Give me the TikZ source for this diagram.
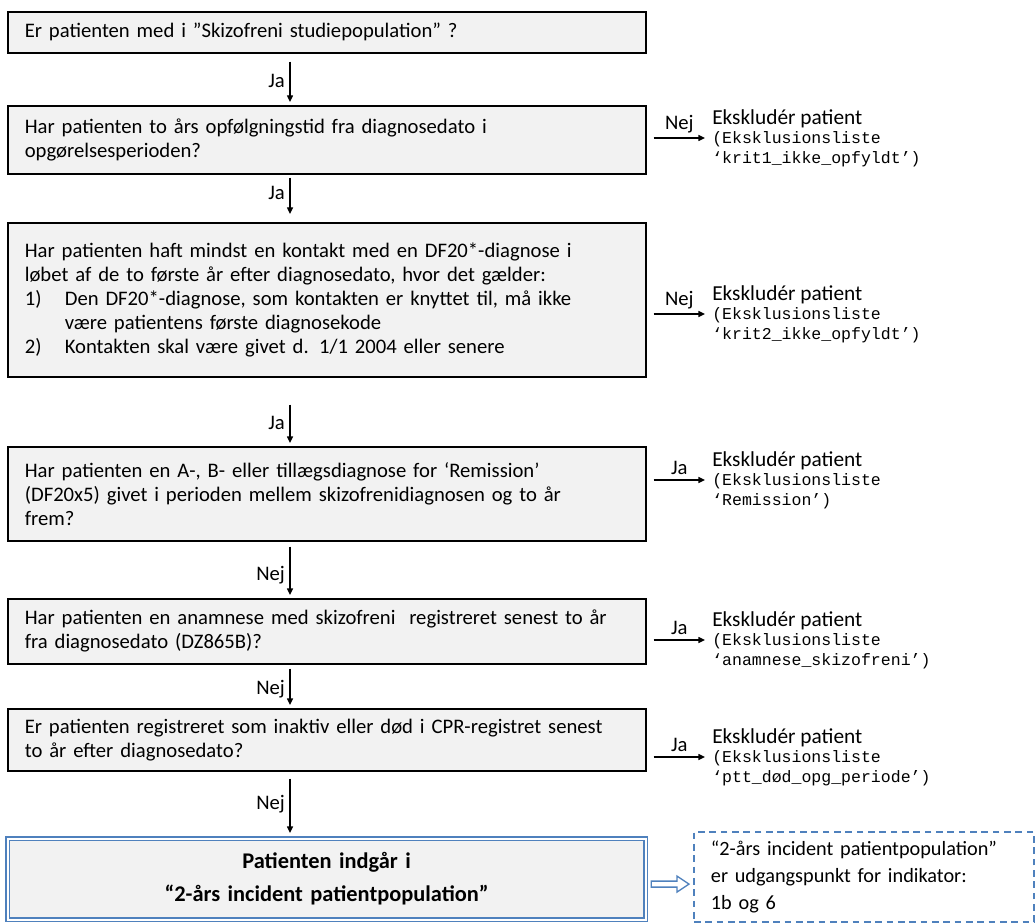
\documentclass[tikz,border=0pt]{standalone}
\usepackage{fontspec}
\setmainfont{Carlito}
\setmonofont{Liberation Mono}
\usetikzlibrary{arrows.meta, positioning, calc}

\definecolor{boxgray}{HTML}{F2F2F2}
\definecolor{offblue}{HTML}{4F81BD}
\newcommand{\exfont}{\ttfamily\fontsize{12.4}{14.5}\selectfont}

\tikzset{
  qbox/.style={draw, line width=1.2pt, fill=boxgray, anchor=north west, text width=453pt, inner xsep=12.75pt, align=left},
  finbox/.style={draw=offblue, line width=0.9pt, double=white, double distance=1.5pt, fill=boxgray, anchor=north west, text width=453pt, inner xsep=12.75pt, align=center, font=\bfseries\fontsize{16.8}{24.75}\selectfont},
  goalbox/.style={draw=offblue, line width=1.4pt, dash pattern=on 5pt off 3.5pt, anchor=north west, text width=229.5pt, inner xsep=12.75pt, align=left, minimum height=67.5pt, font=\fontsize{15.2}{20}\selectfont},
  exnote/.style={anchor=west, align=left, inner sep=0pt, font=\fontsize{16}{14.5}\selectfont},
  flow/.style={-{Triangle[length=5pt,width=4.5pt]}, line width=1pt},
  hollow/.style={draw=offblue, line width=1pt, fill=white, line join=miter},
}

\begin{document}
\begin{tikzpicture}[x=0.75pt, y=-0.75pt, font=\fontsize{15.5}{18}\selectfont]
  \useasboundingbox (0,0) rectangle (1035,923);
  \coordinate (axis) at (290,0);

  % questions
  \node[qbox, minimum height=30.75pt] (q1) at (7,11) {Er patienten med i ”Skizofreni studiepopulation” ?};
  \node[qbox, minimum height=51pt] (q2) at (7,105) {Har patienten to års opfølgningstid fra diagnosedato i\\opgørelsesperioden?};
  \node[qbox, minimum height=115.5pt] (q3) at (7,222) {Har patienten haft mindst en kontakt med en DF20*-diagnose i\\
    løbet af de to første år efter diagnosedato, hvor det gælder:\\
    \makebox[30pt][l]{1)}Den DF20*-diagnose, som kontakten er knyttet til, må ikke\\
    \hspace*{30pt}være patientens første diagnosekode\\
    \makebox[30pt][l]{2)}Kontakten skal være givet d. 1/1 2004 eller senere};
  \node[qbox, minimum height=70.5pt] (q4) at (7,446) {Har patienten en A-, B- eller tillægsdiagnose for ‘Remission’\\(DF20x5) givet i perioden mellem skizofrenidiagnosen og to år\\frem?};
  \node[qbox, minimum height=48.75pt] (q5) at (7,598) {Har patienten en anamnese med skizofreni\ \ registreret senest to år\\fra diagnosedato (DZ865B)?};
  \node[qbox, minimum height=46.5pt] (q6) at (7,708) {Er patienten registreret som inaktiv eller død i CPR-registret senest\\to år efter diagnosedato?};
  \node[finbox, minimum height=60.75pt] (fin) at (7,838) {Patienten indgår i\\“2-års incident patientpopulation”};
  \node[goalbox] (goal) at (693,831) {“2-års incident patientpopulation”\\er udgangspunkt for indikator:\\1b og 6};

  % exclusions
  \node[exnote] (x1) at (712,138) {Ekskludér patient\\{\exfont (Eksklusionsliste}\\{\exfont ‘krit1\_ikke\_opfyldt’)}};
  \node[exnote] (x2) at (712,314) {Ekskludér patient\\{\exfont (Eksklusionsliste}\\{\exfont ‘krit2\_ikke\_opfyldt’)}};
  \node[exnote] (x3) at (712,480) {Ekskludér patient\\{\exfont (Eksklusionsliste}\\{\exfont ‘Remission’)}};
  \node[exnote] (x4) at (712,640) {Ekskludér patient\\{\exfont (Eksklusionsliste}\\{\exfont ‘anamnese\_skizofreni’)}};
  \node[exnote] (x5) at (712,757) {Ekskludér patient\\{\exfont (Eksklusionsliste}\\{\exfont ‘ptt\_død\_opg\_periode’)}};

  % main flow
  \draw[flow, shorten <=6pt, shorten >=2.25pt] (q1.south -| axis) -- (q2.north -| axis) node[pos=0.53, left] {Ja};
  \draw[flow, shorten <=2.25pt, shorten >=6pt] (q2.south -| axis) -- (q3.north -| axis) node[pos=0.39, left] {Ja};
  \draw[flow, shorten <=20.25pt, shorten >=2.25pt] (q3.south -| axis) -- (q4.north -| axis) node[pos=0.67, left] {Ja};
  \draw[flow, shorten <=3.75pt, shorten >=2.25pt] (q4.south -| axis) -- (q5.north -| axis) node[pos=0.6, left] {Nej};
  \draw[flow, shorten <=3pt, shorten >=2.25pt] (q5.south -| axis) -- (q6.north -| axis) node[pos=0.56, left] {Nej};
  \draw[flow, shorten <=5.25pt, shorten >=3.75pt] (q6.south -| axis) -- (fin.north -| axis) node[pos=0.49, left] {Nej};

  % side exits
  \draw[flow, shorten <=5.25pt, shorten >=5.25pt] (q2.east |- x1.west) -- (x1.west) node[midway, above] {Nej};
  \draw[flow, shorten <=5.25pt, shorten >=5.25pt] (q3.east |- x2.west) -- (x2.west) node[midway, above] {Nej};
  \draw[flow, shorten <=5.25pt, shorten >=5.25pt] (q4.east |- x3.west) -- (x3.west) node[midway, above] {Ja};
  \draw[flow, shorten <=5.25pt, shorten >=5.25pt] (q5.east |- x4.west) -- (x4.west) node[midway, above] {Ja};
  \draw[flow, shorten <=5.25pt, shorten >=5.25pt] (q6.east |- x5.west) -- (x5.west) node[midway, above] {Ja};

  % hollow block arrow to the note
  \coordinate (tip) at ($(goal.west |- fin.east)+(-4,5)$);
  \draw[hollow] ($(fin.east)+(5,2)$) -- ($(tip)+(-12,-3)$) -- ($(tip)+(-12,-8)$) -- (tip)
    -- ($(tip)+(-12,8)$) -- ($(tip)+(-12,3)$) -- ($(fin.east)+(5,8)$) -- cycle;
\end{tikzpicture}
\end{document}
